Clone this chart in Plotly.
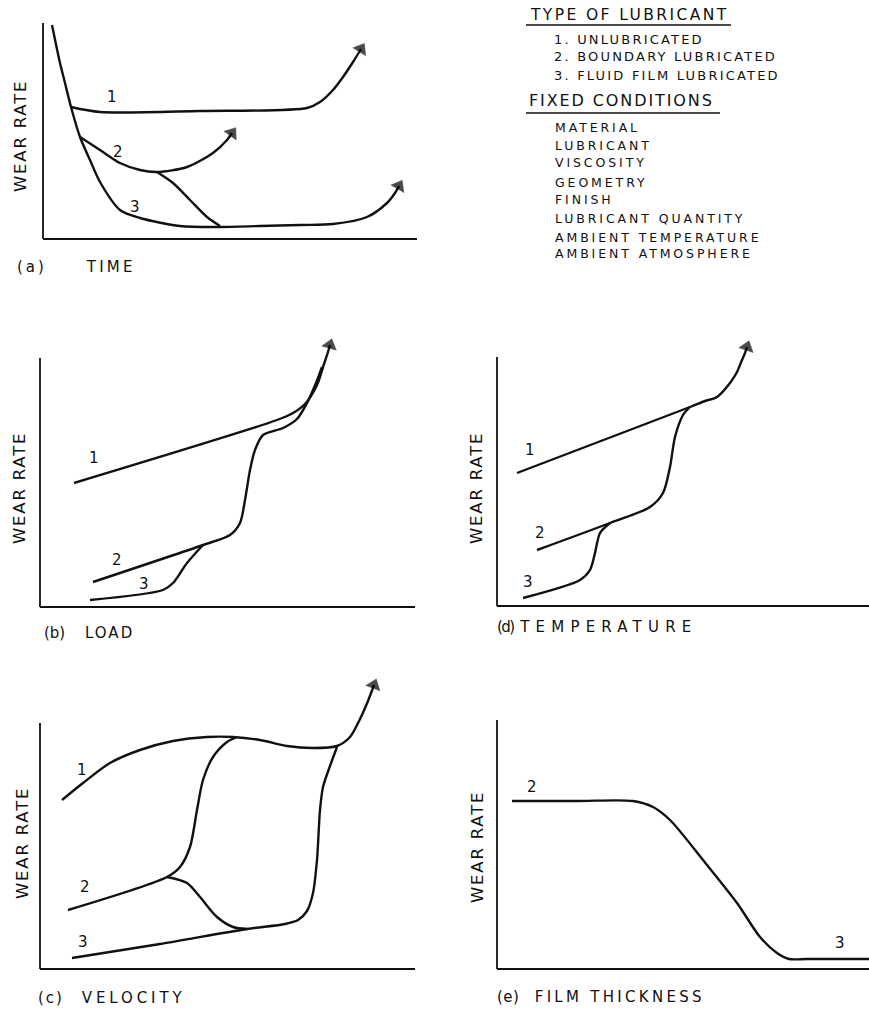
import plotly.graph_objects as go

# ---------------- data (schematic wear-rate curves) ----------------
# Panel (a) TIME
a1_x = [28, 57, 157, 264, 277, 290, 300, 310, 318]
a1_y = [132, 127, 128, 131, 137, 149, 162, 177, 190]
a2_x = [37, 57, 77, 97, 114, 144, 170, 184, 189]
a2_y = [102, 89, 76, 69, 67, 72, 86, 99, 106]
a2b_x = [114, 130, 147, 164, 177]
a2b_y = [67, 56, 39, 22, 13]
a3_x = [9, 17, 22, 28, 37, 47, 57, 77, 97, 137, 177, 217, 257, 290, 324, 344, 352, 356]
a3_y = [214, 176, 156, 132, 102, 79, 57, 29, 21, 13, 12, 13, 14, 15, 22, 36, 46, 53]

# Panel (b) LOAD
b1_x = [34, 237, 253, 265, 277, 284, 288, 290]
b1_y = [124, 187, 194, 203, 222, 243, 255, 262]
b2_x = [53, 163, 190, 200, 205, 210, 215, 223, 243, 257, 267, 276, 282]
b2_y = [25, 62, 72, 84, 107, 137, 157, 172, 179, 188, 204, 224, 240]
b3_x = [50, 123, 133, 147, 163]
b3_y = [7, 17, 24, 44, 62]

# Panel (d) TEMPERATURE
d1_x = [20, 193, 208, 220, 233, 240, 245, 248, 250]
d1_y = [133, 199, 205, 209, 223, 234, 246, 253, 259]
d2_x = [40, 113, 153, 166, 173, 178, 186, 193]
d2_y = [56, 83, 99, 113, 139, 169, 191, 199]
d3_x = [26, 83, 93, 98, 103, 113]
d3_y = [8, 26, 36, 53, 73, 83]

# Panel (c) VELOCITY
c1_x = [22, 43, 70, 100, 133, 167, 193, 220, 247, 273, 297, 310, 320, 328, 334]
c1_y = [169, 186, 206, 219, 228, 232, 232, 229, 223, 221, 223, 232, 250, 268, 284]
c2_x = [28, 127, 140, 150, 157, 163, 173, 187, 197]
c2_y = [59, 92, 102, 122, 159, 189, 212, 227, 232]
c2b_x = [127, 147, 160, 177, 193, 207]
c2b_y = [92, 86, 72, 52, 42, 40]
c3_x = [32, 120, 207, 245, 258, 267, 273, 277, 280, 283, 290, 297]
c3_y = [11, 25, 40, 45, 49, 58, 76, 109, 159, 182, 203, 222]

# Panel (e) FILM THICKNESS
e_x = [15, 80, 136, 156, 173, 206, 240, 263, 280, 292, 310, 340, 372]
e_y = [168, 168, 168, 162, 149, 109, 66, 32, 16, 10, 10, 10, 10]

# curve number labels: (panel, x, y, text)
curve_labels = [
    ("a", 69, 142, "1"), ("a", 75, 87, "2"), ("a", 92, 32, "3"),
    ("b", 54, 149, "1"), ("b", 77, 47, "2"), ("b", 104, 23, "3"),
    ("d", 33, 156, "1"), ("d", 43, 73, "2"), ("d", 31, 24, "3"),
    ("c", 42, 199, "1"), ("c", 45, 82, "2"), ("c", 43, 27, "3"),
    ("e", 35, 182, "2"), ("e", 343, 26, "3"),
]

# panel captions, split into the letter part and the word part
panel_titles = {"a": ("(a) ", "TIME"), "b": ("(b) ", "LOAD"), "d": ("(d) ", "TEMPERATURE"),
                "c": ("(c) ", "VELOCITY"), "e": ("(e) ", "FILM THICKNESS")}
y_title = "WEAR RATE"

legend_head1 = "TYPE OF LUBRICANT"
legend_types = ["1. UNLUBRICATED", "2. BOUNDARY LUBRICATED", "3. FLUID FILM LUBRICATED"]
legend_head2 = "FIXED CONDITIONS"
legend_fixed = ["MATERIAL", "LUBRICANT", "VISCOSITY", "GEOMETRY", "FINISH",
                "LUBRICANT QUANTITY", "AMBIENT TEMPERATURE", "AMBIENT ATMOSPHERE"]

# ---------------- layout geometry (pixels) ----------------
W, H = 869, 1011
panels = {
    "a": dict(ax="", L=43, B=239, x0=36, x1=420, top=16, bot=244, xlen=374, ylen=216),
    "b": dict(ax="2", L=40, B=607, x0=33, x1=420, top=333, bot=612, xlen=375, ylen=249),
    "d": dict(ax="3", L=497, B=606, x0=490, x1=869, top=333, bot=611, xlen=372, ylen=249),
    "c": dict(ax="4", L=40, B=969, x0=33, x1=420, top=672, bot=974, xlen=375, ylen=246),
    "e": dict(ax="5", L=497, B=969, x0=490, x1=869, top=712, bot=974, xlen=372, ylen=249),
}
# caption: left x, centre y, letter-spacing & word-spacing of prefix, letter-spacing & word-spacing of words
title_style = {"a": (15, 267, 3.0, 32, 3.3, 0), "b": (42, 633, 0.0, 15, 2.0, 0),
               "d": (495, 627, -1.5, 3.2, 6.2, 0), "c": (36, 998, 2.0, 11, 3.9, 0),
               "e": (495, 997, 0.5, 10, 3.3, 0)}
ylab_pos = {"a": (20, 136), "b": (20, 488), "d": (477, 488), "c": (22, 843), "e": (477, 847)}

INK = "#111111"
FONT = "DejaVu Sans"
LW = 2.4

fig = go.Figure()
layout = dict(width=W, height=H, margin=dict(l=0, r=0, t=0, b=0),
              paper_bgcolor="white", plot_bgcolor="white", showlegend=False)
shapes, annotations = [], []

for name, p in panels.items():
    ax = p["ax"]
    xd = [p["x0"] / W, min(1.0, p["x1"] / W)]
    yd = [(H - p["bot"]) / H, (H - p["top"]) / H]
    xr = [p["x0"] - p["L"], p["x1"] - p["L"]]
    yr = [p["B"] - p["bot"], p["B"] - p["top"]]
    common = dict(showgrid=False, zeroline=False, showticklabels=False, ticks="",
                  showline=False, fixedrange=True)
    layout["xaxis" + ax] = dict(domain=xd, range=xr, anchor="y" + ax, **common)
    layout["yaxis" + ax] = dict(domain=yd, range=yr, anchor="x" + ax, **common)
    shapes.append(dict(type="line", xref="x" + ax, yref="y" + ax, x0=0, y0=0, x1=0, y1=p["ylen"],
                       line=dict(color=INK, width=1.8)))
    shapes.append(dict(type="line", xref="x" + ax, yref="y" + ax, x0=0, y0=0, x1=p["xlen"], y1=0,
                       line=dict(color=INK, width=1.8)))


def curve(panel, xs, ys, arrow=False):
    ax = panels[panel]["ax"]
    sizes = [0] * (len(xs) - 1) + [13 if arrow else 0]
    fig.add_trace(go.Scatter(
        x=xs, y=ys, xaxis="x" + ax, yaxis="y" + ax,
        mode="lines+markers" if arrow else "lines",
        line=dict(color=INK, width=LW, shape="spline", smoothing=0.8),
        marker=dict(symbol="triangle-up", size=sizes, angleref="previous", color="#000000",
                    line=dict(width=0.5, color="#000000")),
        hoverinfo="skip"))


curve("a", a3_x, a3_y, arrow=True)
curve("a", a1_x, a1_y, arrow=True)
curve("a", a2_x, a2_y, arrow=True)
curve("a", a2b_x, a2b_y)

curve("b", b1_x, b1_y, arrow=True)
curve("b", b2_x, b2_y)
curve("b", b3_x, b3_y)

curve("d", d1_x, d1_y, arrow=True)
curve("d", d2_x, d2_y)
curve("d", d3_x, d3_y)

curve("c", c1_x, c1_y, arrow=True)
curve("c", c2_x, c2_y)
curve("c", c2b_x, c2b_y)
curve("c", c3_x, c3_y)

curve("e", e_x, e_y)


def spaced(text, sp, ws=0):
    return '<span style="letter-spacing:%.1fpx;word-spacing:%.1fpx">%s</span>' % (sp, ws, text)


for panel, x, y, t in curve_labels:
    ax = panels[panel]["ax"]
    annotations.append(dict(text=t, x=x, y=y, xref="x" + ax, yref="y" + ax, showarrow=False,
                            font=dict(family=FONT, size=15, color=INK)))

for panel, (pre, words) in panel_titles.items():
    px, py, s1, w1, s2, w2 = title_style[panel]
    annotations.append(dict(text=spaced(pre, s1, w1) + spaced(words, s2, w2),
                            x=px / W, y=1 - py / H, xref="paper", yref="paper",
                            xanchor="left", yanchor="middle", showarrow=False,
                            font=dict(family=FONT, size=15, color=INK)))
    lx, ly = ylab_pos[panel]
    annotations.append(dict(text=spaced(y_title, 1.8), x=lx / W, y=1 - ly / H, xref="paper", yref="paper",
                            xanchor="center", yanchor="middle", showarrow=False, textangle=-90,
                            font=dict(family=FONT, size=16.5, color=INK)))

# legend block (text): text, left x, centre y, font size, letter spacing
legend_rows = [(legend_head1, 528, 15, 15.5, 2.4)]
for t, yy in zip(legend_types, [39, 57, 75]):
    legend_rows.append((t, 552, yy, 13, 2.2))
legend_rows.append((legend_head2, 527, 100, 16, 1.9))
for t, yy in zip(legend_fixed, [128, 145, 163, 182, 199, 218, 237, 254]):
    legend_rows.append((t, 553, yy, 12.5, 2.9))
for t, px, py, fs, sp in legend_rows:
    annotations.append(dict(text=spaced(t, sp), x=px / W, y=1 - py / H, xref="paper", yref="paper",
                            xanchor="left", yanchor="middle", showarrow=False,
                            font=dict(family=FONT, size=fs, color=INK)))
for (x0, x1, yy) in [(526, 731, 25), (526, 720, 113)]:
    shapes.append(dict(type="line", xref="paper", yref="paper", x0=x0 / W, x1=x1 / W,
                       y0=1 - yy / H, y1=1 - yy / H, line=dict(color=INK, width=1.6)))

layout["shapes"] = shapes
layout["annotations"] = annotations
fig.update_layout(**layout)
fig.write_html("out.html", config={"displayModeBar": False, "staticPlot": True},
               post_script="document.body.style.margin='0px';document.body.style.padding='0px';")
